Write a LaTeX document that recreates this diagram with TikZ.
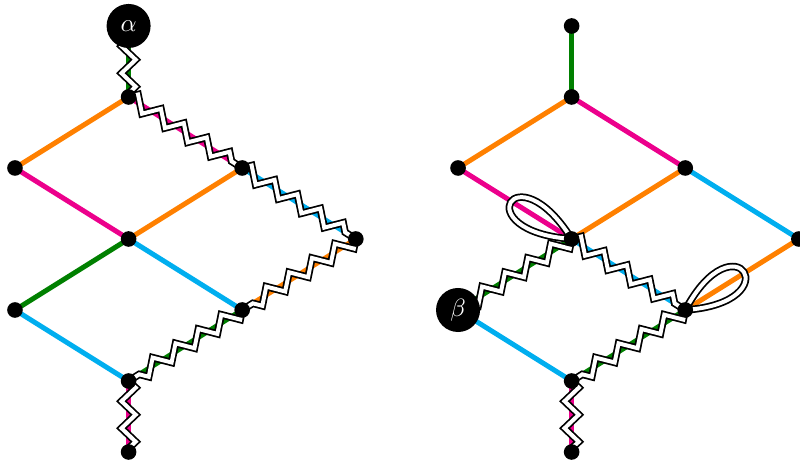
\documentclass[tikz,border=0pt]{standalone}
\usepackage{amsmath,amssymb}
\usepackage{tikz}
\usetikzlibrary{calc,decorations.pathmorphing}
\definecolor{eorange}{RGB}{255,128,0}
\definecolor{epink}{RGB}{236,0,140}
\definecolor{eblue}{RGB}{0,174,239}
\definecolor{egreen}{RGB}{0,128,0}
\begin{document}
\begin{tikzpicture}[scale=1,
        edge/.style={line width=2pt},
        zz/.style={decorate, decoration={zigzag, segment length=0.38cm, amplitude=0.1cm},
            draw=black, double=white, double distance=1.6pt, line width=0.7pt},
        lp/.style={draw=black, double=white, double distance=1.6pt, line width=0.7pt},
        dot/.style={circle, fill=black, inner sep=0pt, minimum size=0.22cm},
        big/.style={circle, fill=black, text=white, inner sep=0pt, minimum size=0.62cm}]
        \useasboundingbox (-0.211,2.366) rectangle (11.056,-4.169);
        % left diagram
        \coordinate (al) at (1.6,2);
        \coordinate (a) at (1.6,1);
        \coordinate (b) at (0,0);
        \coordinate (c) at (3.2,0);
        \coordinate (d) at (1.6,-1);
        \coordinate (e) at (4.8,-1);
        \coordinate (f) at (0,-2);
        \coordinate (g) at (3.2,-2);
        \coordinate (h) at (1.6,-3);
        \coordinate (k) at (1.6,-4);
        % right diagram
        \coordinate (t2) at (7.84,2);
        \coordinate (a2) at (7.84,1);
        \coordinate (b2) at (6.24,0);
        \coordinate (c2) at (9.44,0);
        \coordinate (d2) at (7.84,-1);
        \coordinate (e2) at (11.04,-1);
        \coordinate (be) at (6.24,-2);
        \coordinate (g2) at (9.44,-2);
        \coordinate (h2) at (7.84,-3);
        \coordinate (k2) at (7.84,-4);
        \draw[edge, egreen] (al) -- (a);
        \draw[edge, eorange] (a) -- (b);
        \draw[edge, epink] (a) -- (c);
        \draw[edge, epink] (b) -- (d);
        \draw[edge, eorange] (c) -- (d);
        \draw[edge, eblue] (c) -- (e);
        \draw[edge, egreen] (d) -- (f);
        \draw[edge, eblue] (d) -- (g);
        \draw[edge, eorange] (e) -- (g);
        \draw[edge, eblue] (f) -- (h);
        \draw[edge, egreen] (g) -- (h);
        \draw[edge, epink] (h) -- (k);
        \draw[edge, egreen] (t2) -- (a2);
        \draw[edge, eorange] (a2) -- (b2);
        \draw[edge, epink] (a2) -- (c2);
        \draw[edge, epink] (b2) -- (d2);
        \draw[edge, eorange] (c2) -- (d2);
        \draw[edge, eblue] (c2) -- (e2);
        \draw[edge, egreen] (d2) -- (be);
        \draw[edge, eblue] (d2) -- (g2);
        \draw[edge, eorange] (e2) -- (g2);
        \draw[edge, eblue] (be) -- (h2);
        \draw[edge, egreen] (g2) -- (h2);
        \draw[edge, epink] (h2) -- (k2);
        % zigzags
        \draw[zz] (al) -- (a);
        \draw[zz] (a) -- (c);
        \draw[zz] (c) -- (e);
        \draw[zz] (e) -- (g);
        \draw[zz] (g) -- (h);
        \draw[zz] (h) -- (k);
        \draw[zz] (d2) -- (be);
        \draw[zz] (d2) -- (g2);
        \draw[zz] (g2) -- (h2);
        \draw[zz] (h2) -- (k2);
        % loops
        \draw[lp] (d2) .. controls +(122:1.5) and +(176:1.5) .. (d2);
        \draw[lp] (g2) .. controls +(4:1.5) and +(62:1.5) .. (g2);
        % vertices
        \foreach \p in {a,b,c,d,e,f,g,h,k,t2,a2,b2,c2,d2,e2,g2,h2,k2}
            \node[dot] (n\p) at (\p) {};
        \node[big] (alpha) at (al) {$\alpha$};
        \node[big] (beta) at (be) {$\beta$};
    \end{tikzpicture}
\end{document}
